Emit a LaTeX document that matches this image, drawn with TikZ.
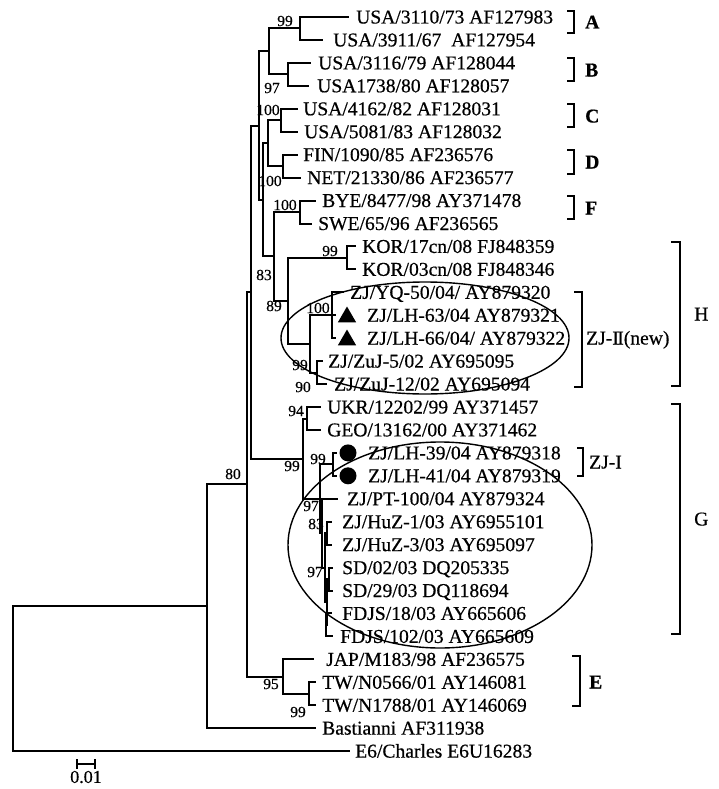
\documentclass[tikz,border=0pt]{standalone}
\usepackage{fontspec}
\setmainfont{Liberation Serif}
\newfontfamily\heavy[FakeBold=0.5]{Liberation Serif}
\newfontfamily\heavyb[FakeBold=0.6]{Liberation Serif Bold}
\usetikzlibrary{shapes.geometric}
\newcommand\leaffont{\heavy\fontsize{19.6pt}{22pt}\selectfont}
\newcommand\bsfont{\heavy\fontsize{15.5pt}{17pt}\selectfont}
\newcommand\romII{I\kern-1.6pt I}
\begin{document}
\begin{tikzpicture}[x=1pt,y=-1pt,
  br/.style={line width=2pt, line cap=rect},
  leaf/.style={anchor=west, inner sep=0pt, font=\leaffont, text height=13pt, text depth=0pt},
  bs/.style={inner sep=0pt, font=\bsfont},
  brk/.style={line width=1.6pt},
  grp/.style={anchor=west, inner sep=0pt, font=\heavyb\fontsize{19.6pt}{22pt}\selectfont, text height=13pt, text depth=0pt},
  grpn/.style={anchor=west, inner sep=0pt, font=\leaffont, text height=13pt, text depth=0pt},
  ov/.style={draw, ellipse, line width=1.4pt, inner sep=0pt},
  tri/.style={regular polygon, regular polygon sides=3, fill=black, inner sep=0pt, minimum size=21pt},
  dot/.style={circle, fill=black, inner sep=0pt, minimum size=17pt}]
\useasboundingbox (0,0) rectangle (719,789);
% ellipses (behind)
\node[ov, minimum width=288pt, minimum height=112pt] (ovII) at (425,338) {};
\node[ov, minimum width=304pt, minimum height=206pt] (ovI) at (440,545) {};
% internal nodes
\coordinate (root) at (13,678);
\coordinate (n207) at (207,606.2);
\coordinate (n80) at (247,484.3);
\coordinate (nbig) at (251,292.1);
\coordinate (ne) at (283,676.5);
\coordinate (ntw) at (309,693.7);
\coordinate (nup) at (259,125.6);
\coordinate (ng) at (303,458.6);
\coordinate (nab) at (269,51.4);
\coordinate (np) at (263,199.8);
\coordinate (na) at (300,28.5);
\coordinate (nb) at (288,74.4);
\coordinate (ncd) at (268,143.2);
\coordinate (n83) at (274,256.4);
\coordinate (nc) at (281,120.2);
\coordinate (nd) at (283,166.1);
\coordinate (nf) at (300,212);
\coordinate (n89) at (288,300.9);
\coordinate (nkor) at (347,257.9);
\coordinate (n99) at (310,343.9);
\coordinate (n100) at (332,315.2);
\coordinate (n90) at (317,372.6);
\coordinate (n94) at (307,418.5);
\coordinate (n97) at (320,498.8);
\coordinate (nlh) at (333,464.4);
\coordinate (nrest) at (322,533.2);
\coordinate (n83b) at (325,567.6);
\coordinate (nhuz) at (327,533.2);
\coordinate (n97b) at (327,602);
\coordinate (nsd) at (329,579.1);
\coordinate (nfd) at (326,624.9);
% leaf ends
\coordinate (e1) at (348,17);
\coordinate (e2) at (322,39.9);
\coordinate (e3) at (310,62.9);
\coordinate (e4) at (308,85.8);
\coordinate (e5) at (297,108.8);
\coordinate (e6) at (297,131.7);
\coordinate (e7) at (297,154.6);
\coordinate (e8) at (300,177.6);
\coordinate (e9) at (315,200.5);
\coordinate (e10) at (311,223.5);
\coordinate (e11) at (355,246.4);
\coordinate (e12) at (355,269.3);
\coordinate (e13) at (343,292.3);
\coordinate (e14) at (335,315.2);
\coordinate (e15) at (335,338.2);
\coordinate (e16) at (322,361.1);
\coordinate (e17) at (326,384);
\coordinate (e18) at (320,407);
\coordinate (e19) at (320,429.9);
\coordinate (e20) at (336,452.9);
\coordinate (e21) at (336,475.8);
\coordinate (e22) at (337,498.7);
\coordinate (e23) at (331,521.7);
\coordinate (e24) at (331,544.6);
\coordinate (e25) at (332,567.6);
\coordinate (e26) at (332,590.5);
\coordinate (e27) at (331,613.4);
\coordinate (e28) at (332,636.4);
\coordinate (e29) at (313,659.3);
\coordinate (e30) at (315,682.3);
\coordinate (e31) at (315,705.2);
\coordinate (e32) at (315,728.1);
\coordinate (e33) at (349,751.1);
% branches
\draw[br] (root) |- (n207);
\draw[br] (root) |- (e33);
\draw[br] (n207) |- (n80);
\draw[br] (n207) |- (e32);
\draw[br] (n80) |- (nbig);
\draw[br] (n80) |- (ne);
\draw[br] (ne) |- (e29);
\draw[br] (ne) |- (ntw);
\draw[br] (ntw) |- (e30);
\draw[br] (ntw) |- (e31);
\draw[br] (nbig) |- (nup);
\draw[br] (nbig) |- (ng);
\draw[br] (nup) |- (nab);
\draw[br] (nup) |- (np);
\draw[br] (nab) |- (na);
\draw[br] (nab) |- (nb);
\draw[br] (na) |- (e1);
\draw[br] (na) |- (e2);
\draw[br] (nb) |- (e3);
\draw[br] (nb) |- (e4);
\draw[br] (np) |- (ncd);
\draw[br] (np) |- (n83);
\draw[br] (ncd) |- (nc);
\draw[br] (ncd) |- (nd);
\draw[br] (nc) |- (e5);
\draw[br] (nc) |- (e6);
\draw[br] (nd) |- (e7);
\draw[br] (nd) |- (e8);
\draw[br] (n83) |- (nf);
\draw[br] (n83) |- (n89);
\draw[br] (nf) |- (e9);
\draw[br] (nf) |- (e10);
\draw[br] (n89) |- (nkor);
\draw[br] (n89) |- (n99);
\draw[br] (nkor) |- (e11);
\draw[br] (nkor) |- (e12);
\draw[br] (n99) |- (n100);
\draw[br] (n99) |- (n90);
\draw[br] (n100) |- (e13);
\draw[br] (n100) |- (e14);
\draw[br] (n100) |- (e15);
\draw[br] (n90) |- (e16);
\draw[br] (n90) |- (e17);
\draw[br] (ng) |- (n94);
\draw[br] (ng) |- (n97);
\draw[br] (n94) |- (e18);
\draw[br] (n94) |- (e19);
\draw[br] (n97) |- (nlh);
\draw[br] (n97) |- (nrest);
\draw[br] (nlh) |- (e20);
\draw[br] (nlh) |- (e21);
\draw[br] (nrest) |- (e22);
\draw[br] (nrest) |- (n83b);
\draw[br] (n83b) |- (nhuz);
\draw[br] (n83b) |- (n97b);
\draw[br] (nhuz) |- (e23);
\draw[br] (nhuz) |- (e24);
\draw[br] (n97b) |- (nsd);
\draw[br] (n97b) |- (nfd);
\draw[br] (nsd) |- (e25);
\draw[br] (nsd) |- (e26);
\draw[br] (nfd) |- (e27);
\draw[br] (nfd) |- (e28);
% markers
\node[tri] (m14) at (347,317) {};
\node[tri] (m15) at (347,340) {};
\node[dot] (m20) at (348,452.9) {};
\node[dot] (m21) at (348,475.8) {};
% leaf labels
\node[leaf] (l1) at (356,17) {USA/3110/73 AF127983};
\node[leaf] (l2) at (333,39.9) {USA/3911/67\ \ AF127954};
\node[leaf] (l3) at (318,62.9) {USA/3116/79 AF128044};
\node[leaf] (l4) at (317,85.8) {USA1738/80 AF128057};
\node[leaf] (l5) at (303,108.8) {USA/4162/82 AF128031};
\node[leaf] (l6) at (304,131.7) {USA/5081/83 AF128032};
\node[leaf] (l7) at (303,154.6) {FIN/1090/85 AF236576};
\node[leaf] (l8) at (307,177.6) {NET/21330/86 AF236577};
\node[leaf] (l9) at (322,200.5) {BYE/8477/98 AY371478};
\node[leaf] (l10) at (318,223.5) {SWE/65/96 AF236565};
\node[leaf] (l11) at (362,246.4) {KOR/17cn/08 FJ848359};
\node[leaf] (l12) at (362,269.3) {KOR/03cn/08 FJ848346};
\node[leaf] (l13) at (350,292.3) {ZJ/YQ-50/04/ AY879320};
\node[leaf] (l14) at (367,315.2) {ZJ/LH-63/04 AY879321};
\node[leaf] (l15) at (367,338.2) {ZJ/LH-66/04/ AY879322};
\node[leaf] (l16) at (328,361.1) {ZJ/ZuJ-5/02 AY695095};
\node[leaf] (l17) at (334,384) {ZJ/ZuJ-12/02 AY695094};
\node[leaf] (l18) at (327,407) {UKR/12202/99 AY371457};
\node[leaf] (l19) at (327,429.9) {GEO/13162/00 AY371462};
\node[leaf] (l20) at (368,452.9) {ZJ/LH-39/04 AY879318};
\node[leaf] (l21) at (368,475.8) {ZJ/LH-41/04 AY879319};
\node[leaf] (l22) at (347,498.7) {ZJ/PT-100/04 AY879324};
\node[leaf] (l23) at (342,521.7) {ZJ/HuZ-1/03 AY6955101};
\node[leaf] (l24) at (342,544.6) {ZJ/HuZ-3/03 AY695097};
\node[leaf] (l25) at (342,567.6) {SD/02/03 DQ205335};
\node[leaf] (l26) at (342,590.5) {SD/29/03 DQ118694};
\node[leaf] (l27) at (342,613.4) {FDJS/18/03 AY665606};
\node[leaf] (l28) at (340,636.4) {FDJS/102/03 AY665609};
\node[leaf] (l29) at (326,659.3) {JAP/M183/98 AF236575};
\node[leaf] (l30) at (322,682.3) {TW/N0566/01 AY146081};
\node[leaf] (l31) at (322,705.2) {TW/N1788/01 AY146069};
\node[leaf] (l32) at (322,728.1) {Bastianni AF311938};
\node[leaf] (l33) at (355,751.1) {E6/Charles E6U16283};
% bootstrap values
\node[bs] (b1) at (285,21) {99};
\node[bs] (b2) at (272,88) {97};
\node[bs] (b3) at (268,110) {100};
\node[bs] (b4) at (270,181) {100};
\node[bs] (b5) at (285,205) {100};
\node[bs] (b6) at (330,251) {99};
\node[bs] (b7) at (264,275) {83};
\node[bs] (b8) at (274,306) {89};
\node[bs] (b9) at (318,308) {100};
\node[bs] (b10) at (300,365) {99};
\node[bs] (b11) at (303,387) {90};
\node[bs] (b12) at (296,411) {94};
\node[bs] (b13) at (292,466) {99};
\node[bs] (b14) at (318,459) {99};
\node[bs] (b15) at (311,506) {97};
\node[bs] (b16) at (316,524) {83};
\node[bs] (b17) at (315,572) {97};
\node[bs] (b18) at (271,684) {95};
\node[bs] (b19) at (298,712) {99};
\node[bs] (b20) at (233,474) {80};
% group brackets
\coordinate (ga1) at (567,11); \coordinate (ga2) at (574,33);
\draw[brk] (ga1) -| (ga2) -- ++(-7,0);
\node[grp] (gA) at (585,22) {A};
\coordinate (gb1) at (567,58); \coordinate (gb2) at (574,81);
\draw[brk] (gb1) -| (gb2) -- ++(-7,0);
\node[grp] (gB) at (585,70) {B};
\coordinate (gc1) at (567,104); \coordinate (gc2) at (574,127);
\draw[brk] (gc1) -| (gc2) -- ++(-7,0);
\node[grp] (gC) at (585,116) {C};
\coordinate (gd1) at (567,150); \coordinate (gd2) at (574,174);
\draw[brk] (gd1) -| (gd2) -- ++(-7,0);
\node[grp] (gD) at (585,162) {D};
\coordinate (gf1) at (567,196); \coordinate (gf2) at (574,219);
\draw[brk] (gf1) -| (gf2) -- ++(-7,0);
\node[grp] (gF) at (585,208) {F};
\coordinate (gz1) at (574,292); \coordinate (gz2) at (582,387);
\draw[brk] (gz1) -| (gz2) -- ++(-8,0);
\node[grpn] (gZ) at (586,338) {ZJ-\romII(new)};
\coordinate (gh1) at (671,242); \coordinate (gh2) at (680,386);
\draw[brk] (gh1) -| (gh2) -- ++(-9,0);
\node[grpn] (gH) at (694,314) {H};
\coordinate (gy1) at (577,448); \coordinate (gy2) at (583,476);
\draw[brk] (gy1) -| (gy2) -- ++(-6,0);
\node[grpn] (gY) at (589,462) {ZJ-I};
\coordinate (gg1) at (671,404); \coordinate (gg2) at (680,634);
\draw[brk] (gg1) -| (gg2) -- ++(-9,0);
\node[grpn] (gG) at (694,519) {G};
\coordinate (ge1) at (572,656); \coordinate (ge2) at (580,706);
\draw[brk] (ge1) -| (ge2) -- ++(-8,0);
\node[grp] (gE) at (589,682) {E};
% scale bar
\coordinate (sb1) at (76,764); \coordinate (sb2) at (96,764);
\draw[line width=1.6pt, {|-|}] (sb1) -- (sb2);
\node[inner sep=0pt, font=\heavy\fontsize{18pt}{20pt}\selectfont] (sbl) at (86,777) {0.01};
\end{tikzpicture}
\end{document}
